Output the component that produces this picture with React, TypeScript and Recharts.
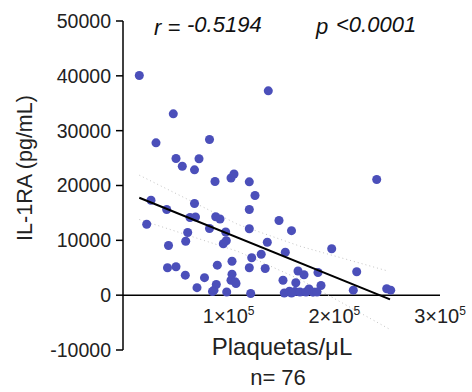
import React from "react";
import {
  ScatterChart,
  Scatter,
  XAxis,
  YAxis,
  ZAxis,
  ReferenceLine,
} from "recharts";

// Plaquetas/µL vs IL-1RA (pg/mL), n = 76
const PLAQUETAS = [
  15430, 137510, 47600, 31230, 81860, 50160, 71930, 56120, 67670, 87070,
  102210, 105050, 119530, 124920, 26500, 41360, 67670, 63410, 68610, 87730,
  91800, 119530, 22430, 81860, 97190, 119530, 147640, 159470, 61230, 59340,
  43060, 97760, 94920, 136570, 153600, 130790, 121800, 103160, 89250, 42110,
  50160, 58960, 77130, 70030, 103160, 119530, 134580, 88300, 86120, 102210,
  106000, 98140, 120860, 165620, 171300, 184550, 151420, 163540, 187390, 152650,
  157580, 162780, 176030, 197510, 221170, 217960, 249570, 253350, 240100, 167510,
  179820, 183600, 84700, 173190, 159470, 106940,
];
const IL1RA = [
  40050, 37260, 33070, 27780, 28380, 24920, 24870, 23520, 22860, 20730,
  21370, 22100, 20670, 18180, 17320, 15620, 16720, 14160, 14260, 14290,
  13890, 15620, 12940, 12160, 11520, 12120, 13620, 11760, 11430, 9840,
  9060, 9920, 9370, 9660, 7820, 7460, 6820, 6180, 5470, 4990,
  5180, 3650, 3190, 1370, 3830, 4990, 4870, 1950, 910, 2730,
  2440, 580, 310, 4410, 3720, 4140, 2730, 2260, 1770, 400,
  710, 670, 1130, 8460, 4270, 910, 1170, 910, 21090, 580,
  550, 580, 670, 580, 400, 2130,
];

// regression line and 95% band
const FIT_X = [15430, 252690];
const FIT_Y = [17760, -780];
const UPPER_X = [15430, 108840, 167510, 251080];
const UPPER_Y = [21880, 12890, 8930, 4380];
const LOWER_X = [15430, 108840, 167510, 252690];
const LOWER_Y = [13800, 7970, 2860, -6250];

const X_TICKS = [100000, 200000, 300000];
const Y_TICKS = [-10000, 0, 10000, 20000, 30000, 40000, 50000];

const FONT = "'Liberation Sans', Arial, sans-serif";

const points = PLAQUETAS.map((x, i) => ({ x, y: IL1RA[i] }));
const toPairs = (xs: number[], ys: number[]) =>
  xs.map((x, i) => ({ x, y: ys[i] }));

const Nothing = () => <g />;

// x tick labels sit just under the y = 0 line, not at the bottom of the plot
const XTick = ({ x, y, payload }: any) => {
  const mant = Math.round(payload.value / 100000);
  return (
    <text
      x={x}
      y={y - 27}
      textAnchor="middle"
      fontSize={20}
      fontFamily={FONT}
      fill="#222"
    >
      {`${mant}×10`}
      <tspan fontSize={12} dy={-8}>
        5
      </tspan>
    </text>
  );
};

export default function App() {
  return (
    <div style={{ position: "absolute", left: 0, top: 0, width: 472, height: 392, background: "#fff" }}>
      <ScatterChart
        width={472}
        height={392}
        margin={{ top: 21, right: 32, bottom: 12, left: 0 }}
      >
        <XAxis
          type="number"
          dataKey="x"
          domain={[0, 300000]}
          ticks={X_TICKS}
          height={30}
          axisLine={false}
          tickLine={false}
          tickSize={0}
          tickMargin={0}
          tick={<XTick />}
          interval={0}
          allowDataOverflow
        />
        <YAxis
          type="number"
          dataKey="y"
          domain={[-10000, 50000]}
          ticks={Y_TICKS}
          width={123}
          axisLine={{ stroke: "#000", strokeWidth: 1.5 }}
          tickLine={{ stroke: "#000", strokeWidth: 1.5 }}
          tickSize={7}
          tickMargin={5}
          tick={{ fontSize: 19.5, fontFamily: FONT, fill: "#222" }}
          interval={0}
          allowDataOverflow
        />
        <ZAxis range={[66, 66]} />
        <ReferenceLine y={0} stroke="#000" strokeWidth={1.5} />
        <Scatter
          data={toPairs(UPPER_X, UPPER_Y)}
          line={{ stroke: "#c4c4c4", strokeWidth: 1, strokeDasharray: "1 3" }}
          lineType="joint"
          shape={<Nothing />}
          isAnimationActive={false}
        />
        <Scatter
          data={toPairs(LOWER_X, LOWER_Y)}
          line={{ stroke: "#c4c4c4", strokeWidth: 1, strokeDasharray: "1 3" }}
          lineType="joint"
          shape={<Nothing />}
          isAnimationActive={false}
        />
        <Scatter data={points} fill="#4b4fba" isAnimationActive={false} />
        <Scatter
          data={toPairs(FIT_X, FIT_Y)}
          line={{ stroke: "#000", strokeWidth: 2 }}
          lineType="joint"
          shape={<Nothing />}
          isAnimationActive={false}
        />
      </ScatterChart>
      <svg
        width={472}
        height={392}
        style={{ position: "absolute", left: 0, top: 0, pointerEvents: "none" }}
        fontFamily={FONT}
      >
        <text x={154} y={35} fontSize={22} fontStyle="italic" fill="#111">
          r =
        </text>
        <text x={187} y={31.5} fontSize={22} fontStyle="italic" fill="#111">
          -0.5194
        </text>
        <text x={316} y={34} fontSize={22} fontStyle="italic" fill="#111">
          p
        </text>
        <text x={336} y={31.5} fontSize={22} fontStyle="italic" fill="#111">
          {"<0.0001"}
        </text>
        <text
          x={31.5}
          y={168}
          fontSize={21.5}
          textAnchor="middle"
          fill="#222"
          transform="rotate(-90 31.5 168)"
        >
          IL-1RA (pg/mL)
        </text>
        <text x={282} y={355} fontSize={24} textAnchor="middle" fill="#222">
          Plaquetas/μL
        </text>
        <text x={278} y={385} fontSize={22} textAnchor="middle" fill="#222">
          n= 76
        </text>
      </svg>
    </div>
  );
}
